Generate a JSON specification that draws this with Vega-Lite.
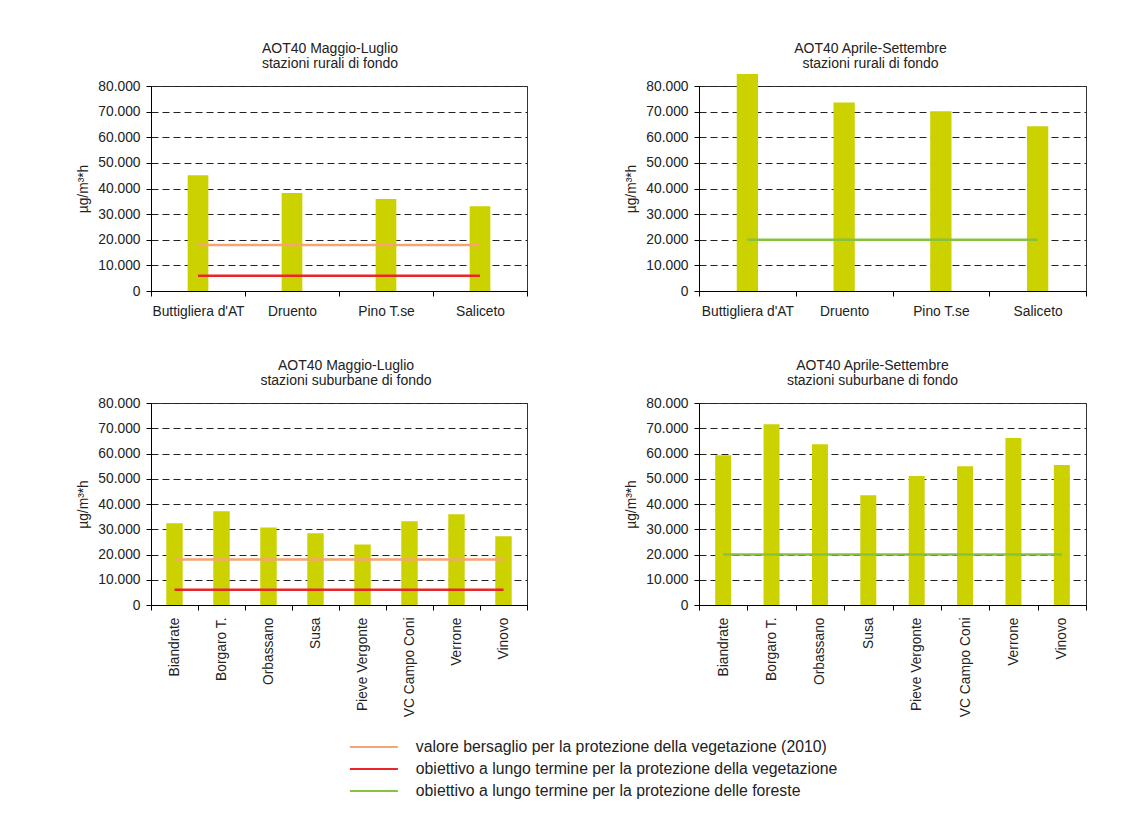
{
  "$schema": "https://vega.github.io/schema/vega-lite/v6.json",
  "background": "white",
  "padding": {"left": 76, "top": 41, "right": 10, "bottom": 5},
  "datasets": {
    "rur_ml": [
      {"stazione": "Buttigliera d'AT", "valore": 45200},
      {"stazione": "Druento", "valore": 38200},
      {"stazione": "Pino T.se", "valore": 35900},
      {"stazione": "Saliceto", "valore": 33100}
    ],
    "rur_as": [
      {"stazione": "Buttigliera d'AT", "valore": 84700},
      {"stazione": "Druento", "valore": 73600},
      {"stazione": "Pino T.se", "valore": 70100},
      {"stazione": "Saliceto", "valore": 64300}
    ],
    "sub_ml": [
      {"stazione": "Biandrate", "valore": 32400},
      {"stazione": "Borgaro T.", "valore": 37100},
      {"stazione": "Orbassano", "valore": 30700},
      {"stazione": "Susa", "valore": 28400},
      {"stazione": "Pieve Vergonte", "valore": 24000},
      {"stazione": "VC Campo Coni", "valore": 33200},
      {"stazione": "Verrone", "valore": 35900},
      {"stazione": "Vinovo", "valore": 27200}
    ],
    "sub_as": [
      {"stazione": "Biandrate", "valore": 59300},
      {"stazione": "Borgaro T.", "valore": 71600},
      {"stazione": "Orbassano", "valore": 63700},
      {"stazione": "Susa", "valore": 43500},
      {"stazione": "Pieve Vergonte", "valore": 51100},
      {"stazione": "VC Campo Coni", "valore": 55000},
      {"stazione": "Verrone", "valore": 66100},
      {"stazione": "Vinovo", "valore": 55400}
    ],
    "soglie_rur_ml": [
      {"stazione": "Buttigliera d'AT", "soglia": "valore bersaglio per la protezione della vegetazione (2010)", "valore": 18000},
      {"stazione": "Saliceto", "soglia": "valore bersaglio per la protezione della vegetazione (2010)", "valore": 18000},
      {"stazione": "Buttigliera d'AT", "soglia": "obiettivo a lungo termine per la protezione della vegetazione", "valore": 6000},
      {"stazione": "Saliceto", "soglia": "obiettivo a lungo termine per la protezione della vegetazione", "valore": 6000}
    ],
    "soglie_rur_as": [
      {"stazione": "Buttigliera d'AT", "soglia": "obiettivo a lungo termine per la protezione delle foreste", "valore": 20000},
      {"stazione": "Saliceto", "soglia": "obiettivo a lungo termine per la protezione delle foreste", "valore": 20000}
    ],
    "soglie_sub_ml": [
      {"stazione": "Biandrate", "soglia": "valore bersaglio per la protezione della vegetazione (2010)", "valore": 18000},
      {"stazione": "Vinovo", "soglia": "valore bersaglio per la protezione della vegetazione (2010)", "valore": 18000},
      {"stazione": "Biandrate", "soglia": "obiettivo a lungo termine per la protezione della vegetazione", "valore": 6000},
      {"stazione": "Vinovo", "soglia": "obiettivo a lungo termine per la protezione della vegetazione", "valore": 6000}
    ],
    "soglie_sub_as": [
      {"stazione": "Biandrate", "soglia": "obiettivo a lungo termine per la protezione delle foreste", "valore": 20000},
      {"stazione": "Vinovo", "soglia": "obiettivo a lungo termine per la protezione delle foreste", "valore": 20000}
    ]
  },
  "config": {
    "locale": {"number": {"decimal": ",", "thousands": ".", "grouping": [3], "currency": ["€", ""]}},
    "font": "Liberation Sans",
    "view": {"stroke": "#333", "strokeWidth": 1},
    "axis": {
      "labelFont": "Liberation Sans", "labelFontSize": 13.8, "labelColor": "#222",
      "titleFont": "Liberation Sans", "titleFontSize": 13.8, "titleFontWeight": "normal", "titleColor": "#222",
      "domainColor": "#000", "tickColor": "#000", "tickSize": 5
    },
    "axisY": {
      "values": [0, 10000, 20000, 30000, 40000, 50000, 60000, 70000, 80000],
      "format": ",d", "grid": true, "gridColor": "#222", "gridDash": [7, 4], "gridWidth": 1,
      "labelPadding": 6, "titlePadding": 7, "title": "µg/m³*h"
    },
    "axisX": {"title": null, "tickBand": "extent", "grid": false, "labelPadding": 8},
    "title": {"font": "Liberation Sans", "fontSize": 14, "fontWeight": "normal", "color": "#222", "offset": 8, "lineHeight": 15, "frame": "group", "anchor": "middle"},
    "legend": {
      "labelFont": "Liberation Sans", "labelFontSize": 15.8, "labelColor": "#222",
      "symbolType": "M-4,0H4", "symbolSize": 144, "symbolStrokeWidth": 2, "padding": 0, "labelOffset": 34, "rowPadding": 5, "labelLimit": 700
    }
  },
  "columns": 2,
  "spacing": {"row": 112, "column": 172},
  "bounds": "flush",
  "resolve": {"scale": {"color": "shared"}, "legend": {"color": "shared"}},
  "concat": [
    {
      "width": 376, "height": 205,
      "title": {"text": ["AOT40 Maggio-Luglio", "stazioni rurali di fondo"], "dx": -9},
      "encoding": {
        "x": {"field": "stazione", "type": "nominal", "sort": null, "scale": {"paddingInner": 0, "paddingOuter": 0}, "axis": {"labelAngle": 0}},
        "y": {"field": "valore", "type": "quantitative", "scale": {"domain": [0, 80000], "nice": false}, "title": "µg/m³*h"}
      },
      "layer": [
        {"data": {"name": "rur_ml"}, "mark": {"type": "bar", "color": "#CCD100", "width": {"band": 0.22}}},
        {"data": {"name": "soglie_rur_ml"}, "mark": {"type": "line", "strokeWidth": 2.5},
         "encoding": {"color": {"field": "soglia", "type": "nominal",
           "scale": {"domain": ["valore bersaglio per la protezione della vegetazione (2010)", "obiettivo a lungo termine per la protezione della vegetazione", "obiettivo a lungo termine per la protezione delle foreste"], "range": ["#F5A571", "#E8262A", "#86C23E"]},
           "legend": {"title": null, "orient": "none", "legendX": 215, "legendY": 653, "direction": "vertical"}}}}
      ]
    },
    {
      "width": 387, "height": 205,
      "title": {"text": ["AOT40 Aprile-Settembre", "stazioni rurali di fondo"], "dx": -22, "offset": 3},
      "encoding": {
        "x": {"field": "stazione", "type": "nominal", "sort": null, "scale": {"paddingInner": 0, "paddingOuter": 0}, "axis": {"labelAngle": 0}},
        "y": {"field": "valore", "type": "quantitative", "scale": {"domain": [0, 80000], "nice": false}, "title": "µg/m³*h"}
      },
      "layer": [
        {"data": {"name": "rur_as"}, "mark": {"type": "bar", "color": "#CCD100", "width": {"band": 0.22}}},
        {"data": {"name": "soglie_rur_as"}, "mark": {"type": "line", "strokeWidth": 2.5},
         "encoding": {"color": {"field": "soglia", "type": "nominal"}}}
      ]
    },
    {
      "width": 376, "height": 202,
      "title": {"text": ["AOT40 Maggio-Luglio", "stazioni suburbane di fondo"], "dx": 7},
      "encoding": {
        "x": {"field": "stazione", "type": "nominal", "sort": null, "scale": {"paddingInner": 0, "paddingOuter": 0}, "axis": {"labelAngle": -90, "labelPadding": 7}},
        "y": {"field": "valore", "type": "quantitative", "scale": {"domain": [0, 80000], "nice": false}, "title": "µg/m³*h"}
      },
      "layer": [
        {"data": {"name": "sub_ml"}, "mark": {"type": "bar", "color": "#CCD100", "width": {"band": 0.35}}},
        {"data": {"name": "soglie_sub_ml"}, "mark": {"type": "line", "strokeWidth": 2.5},
         "encoding": {"color": {"field": "soglia", "type": "nominal"}}}
      ]
    },
    {
      "width": 387, "height": 202,
      "title": {"text": ["AOT40 Aprile-Settembre", "stazioni suburbane di fondo"], "dx": -20},
      "encoding": {
        "x": {"field": "stazione", "type": "nominal", "sort": null, "scale": {"paddingInner": 0, "paddingOuter": 0}, "axis": {"labelAngle": -90, "labelPadding": 7}},
        "y": {"field": "valore", "type": "quantitative", "scale": {"domain": [0, 80000], "nice": false}, "title": "µg/m³*h"}
      },
      "layer": [
        {"data": {"name": "sub_as"}, "mark": {"type": "bar", "color": "#CCD100", "width": {"band": 0.33}}},
        {"data": {"name": "soglie_sub_as"}, "mark": {"type": "line", "strokeWidth": 2.5},
         "encoding": {"color": {"field": "soglia", "type": "nominal"}}}
      ]
    }
  ]
}
